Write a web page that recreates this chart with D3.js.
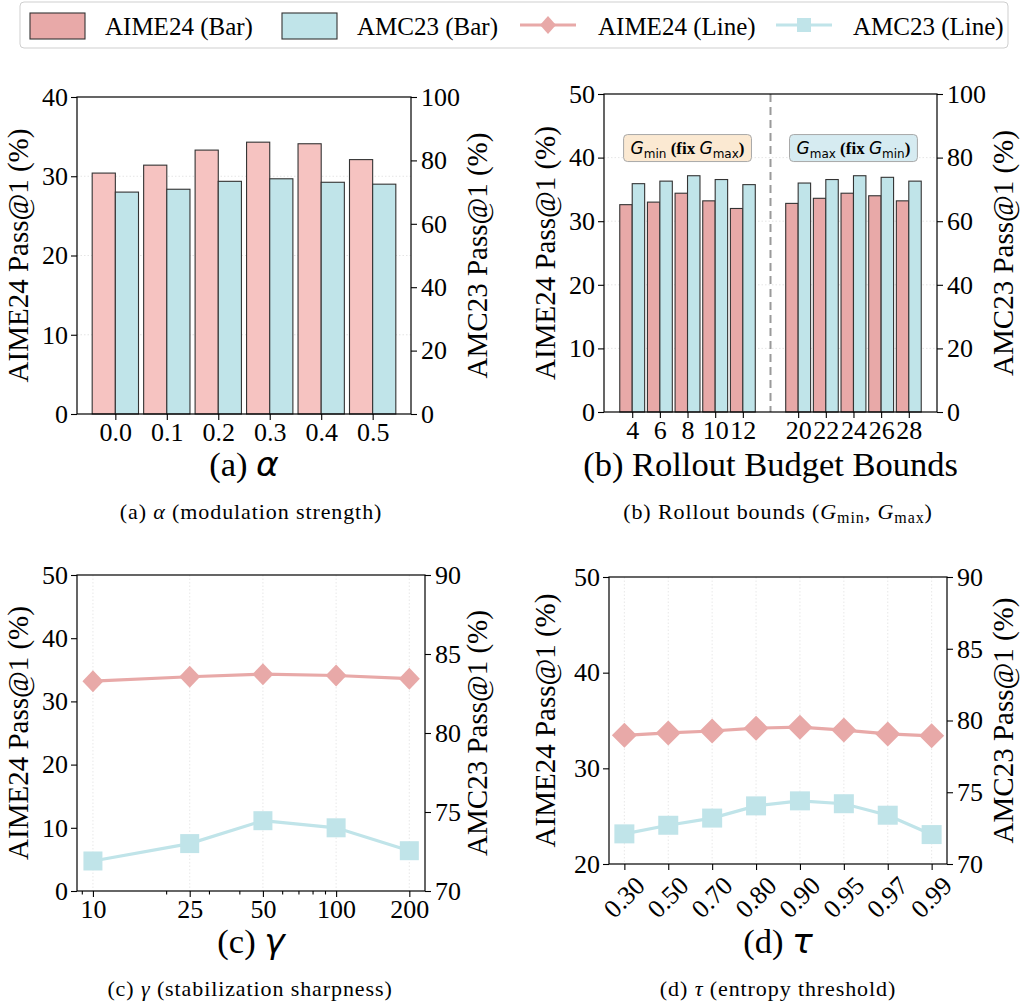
<!DOCTYPE html>
<html>
<head>
<meta charset="utf-8">
<script src="https://cdn.jsdelivr.net/npm/d3@7"></script>
<style>
body { margin: 0; background: #fff; }
text { font-family: 'Liberation Serif', 'Times New Roman', serif; fill: #000; }
</style>
</head>
<body>
<svg id="fig" width="1024" height="1006"></svg>
<script>
// ---- data ----
const alphaLabels = ["0.0", "0.1", "0.2", "0.3", "0.4", "0.5"];
const alphaAime = [30.4, 31.4, 33.3, 34.3, 34.1, 32.1];
const alphaAmc = [70.0, 70.9, 73.4, 74.2, 73.1, 72.5];

const boundLabels = ["4", "6", "8", "10", "12", "20", "22", "24", "26", "28"];
const boundSlots = [0, 1, 2, 3, 4, 6, 7, 8, 9, 10];
const boundAime = [32.6, 33.0, 34.4, 33.2, 32.0, 32.8, 33.6, 34.4, 34.0, 33.2];
const boundAmc = [71.8, 72.6, 74.3, 73.1, 71.5, 72.0, 73.1, 74.3, 73.8, 72.6];

const gammaVals = [10, 25, 50, 100, 200];
const gammaAime = [33.2, 33.9, 34.3, 34.1, 33.6];
const gammaAmc = [71.9, 73.0, 74.45, 74.0, 72.55];

const tauLabels = ["0.30", "0.50", "0.70", "0.80", "0.90", "0.95", "0.97", "0.99"];
const tauAime = [33.45, 33.7, 33.9, 34.2, 34.3, 34.0, 33.6, 33.4];
const tauAmc = [72.1, 72.7, 73.2, 74.05, 74.4, 74.2, 73.4, 72.05];

const legendNames = ["AIME24 (Bar)", "AMC23 (Bar)", "AIME24 (Line)", "AMC23 (Line)"];

// ---- style ----
const PINK_LIGHT = "#f6c3c1", PINK = "#e8a9a8", BLUE = "#c0e4e9";
const EDGE = "#333";
const TICK_FS = 26, YLAB_FS = 29, XLAB_FS = 34.5, CAP_FS = 22;
const MATH = "'DejaVu Sans', sans-serif";

const svg = d3.select("#fig");

function frame(b) {
    svg.append("rect")
        .attr("x", b.l).attr("y", b.t)
        .attr("width", b.r - b.l).attr("height", b.b - b.t)
        .attr("fill", "none").attr("stroke", "#000").attr("stroke-width", 1.2);
}

function fixAxis(g) {
    g.attr("font-size", TICK_FS).attr("font-family", null);
    g.select(".domain").remove();
    g.selectAll(".tick line").attr("stroke", "#000").attr("stroke-width", 1.1);
}

function yAxes(b, yl, yr, ticksL, ticksR) {
    svg.append("g").attr("transform", `translate(${b.l},0)`)
        .call(d3.axisLeft(yl).tickValues(ticksL).tickSize(6).tickPadding(3).tickSizeOuter(0).tickFormat(d3.format("d")))
        .call(fixAxis);
    svg.append("g").attr("transform", `translate(${b.r},0)`)
        .call(d3.axisRight(yr).tickValues(ticksR).tickSize(6).tickPadding(4).tickSizeOuter(0).tickFormat(d3.format("d")))
        .call(fixAxis);
}

function hGrid(b, y, vals) {
    svg.append("g").selectAll("line").data(vals).enter().append("line")
        .attr("x1", b.l).attr("x2", b.r)
        .attr("y1", d => y(d)).attr("y2", d => y(d))
        .attr("stroke", "#dedede").attr("stroke-width", 0.8).attr("stroke-dasharray", "1.5,2");
}

function vGrid(b, xs) {
    svg.append("g").selectAll("line").data(xs).enter().append("line")
        .attr("x1", d => d).attr("x2", d => d)
        .attr("y1", b.t).attr("y2", b.b)
        .attr("stroke", "#e2e2e2").attr("stroke-width", 0.8).attr("stroke-dasharray", "1.5,2");
}

function yLabel(x, yc, str) {
    svg.append("text")
        .attr("transform", `translate(${x},${yc}) rotate(-90)`)
        .attr("text-anchor", "middle")
        .attr("font-size", YLAB_FS)
        .text(str);
}

function xLabel(xc, y, head, greek) {
    const t = svg.append("text").attr("x", xc).attr("y", y)
        .attr("text-anchor", "middle").attr("font-size", XLAB_FS);
    t.append("tspan").text(head);
    if (greek) t.append("tspan").style("font-family", MATH).attr("font-style", "italic").text(greek);
}

function bars(xs, y, vals, off, w, fill) {
    svg.append("g").selectAll("rect").data(vals).enter().append("rect")
        .attr("x", (d, i) => xs(i, off))
        .attr("width", w)
        .attr("y", d => y(d))
        .attr("height", d => y.range()[0] - y(d))
        .attr("fill", fill).attr("stroke", EDGE).attr("stroke-width", 1.1);
}

function lineSeries(xs, y, vals, color, marker, ms) {
    const line = d3.line().x((d, i) => xs[i]).y(d => y(d));
    svg.append("path").datum(vals).attr("d", line)
        .attr("fill", "none").attr("stroke", color).attr("stroke-width", 3.2);
    const g = svg.append("g");
    vals.forEach((v, i) => {
        const cx = xs[i], cy = y(v);
        if (marker === "diamond") {
            g.append("path")
                .attr("d", `M${cx},${cy - ms[1] / 2}L${cx + ms[0] / 2},${cy}L${cx},${cy + ms[1] / 2}L${cx - ms[0] / 2},${cy}Z`)
                .attr("fill", color);
        } else {
            g.append("rect").attr("x", cx - ms[0] / 2).attr("y", cy - ms[1] / 2)
                .attr("width", ms[0]).attr("height", ms[1]).attr("fill", color);
        }
    });
}

// ---------- (a) alpha ----------
const boxA = { l: 77, r: 411, t: 97, b: 414 };
const xA = d3.scaleLinear().domain([-0.745, alphaLabels.length - 1 + 0.745]).range([boxA.l, boxA.r]);
const yAL = d3.scaleLinear().domain([0, 40]).range([boxA.b, boxA.t]);
const yAR = d3.scaleLinear().domain([0, 100]).range([boxA.b, boxA.t]);
hGrid(boxA, yAL, [10, 20, 30]);
const wA = xA(0.45) - xA(0);
bars((i, off) => xA(i + off), yAL, alphaAime, -0.45, wA, PINK_LIGHT);
bars((i, off) => xA(i + off), yAR, alphaAmc, 0, wA, BLUE);
frame(boxA);
yAxes(boxA, yAL, yAR, [0, 10, 20, 30, 40], [0, 20, 40, 60, 80, 100]);
svg.append("g").attr("transform", `translate(0,${boxA.b})`)
    .call(d3.axisBottom(xA).tickValues(d3.range(alphaLabels.length)).tickFormat(i => alphaLabels[i])
        .tickSize(6).tickPadding(3).tickSizeOuter(0))
    .call(fixAxis);
yLabel(28, (boxA.t + boxA.b) / 2, "AIME24 Pass@1 (%)");
yLabel(487, (boxA.t + boxA.b) / 2, "AMC23 Pass@1 (%)");
xLabel((boxA.l + boxA.r) / 2, 476, "(a) ", "α");

// ---------- (b) rollout bounds ----------
const boxB = { l: 604, r: 937, t: 94, b: 412 };
const xB = d3.scaleLinear().domain([-1.02, 11.02]).range([boxB.l, boxB.r]);
const yBL = d3.scaleLinear().domain([0, 50]).range([boxB.b, boxB.t]);
const yBR = d3.scaleLinear().domain([0, 100]).range([boxB.b, boxB.t]);
hGrid(boxB, yBL, [10, 20, 30, 40]);
const wB = xB(0.45) - xB(0);
bars((i, off) => xB(boundSlots[i] + off), yBL, boundAime, -0.45, wB, PINK);
bars((i, off) => xB(boundSlots[i] + off), yBR, boundAmc, 0, wB, BLUE);
svg.append("line").attr("x1", xB(5)).attr("x2", xB(5)).attr("y1", boxB.t).attr("y2", boxB.b)
    .attr("stroke", "#9a9a9a").attr("stroke-width", 2).attr("stroke-dasharray", "8,5");
frame(boxB);
yAxes(boxB, yBL, yBR, [0, 10, 20, 30, 40, 50], [0, 20, 40, 60, 80, 100]);
svg.append("g").attr("transform", `translate(0,${boxB.b})`)
    .call(d3.axisBottom(xB).tickValues(boundSlots).tickFormat(s => boundLabels[boundSlots.indexOf(s)])
        .tickSize(6).tickPadding(3).tickSizeOuter(0))
    .call(fixAxis);
yLabel(555, (boxB.t + boxB.b) / 2, "AIME24 Pass@1 (%)");
yLabel(1013, (boxB.t + boxB.b) / 2, "AMC23 Pass@1 (%)");
xLabel((boxB.l + boxB.r) / 2, 476, "(b) Rollout Budget Bounds", null);

// annotation boxes
const notes = [
    { slot: 2, a: "min", b: "max", fill: "#fbe9d2" },
    { slot: 8, a: "max", b: "min", fill: "#d6ebf1" }
];
notes.forEach(n => {
    const cx = xB(n.slot), cy = yBL(41.5);
    const t = svg.append("text").attr("x", cx).attr("y", cy + 6)
        .attr("text-anchor", "middle").attr("font-size", 17);
    t.append("tspan").style("font-family", MATH).attr("font-style", "italic").text("G");
    t.append("tspan").style("font-family", MATH).attr("font-size", 12).attr("dy", 4).text(n.a);
    t.append("tspan").attr("font-weight", "bold").attr("dy", -4).text(" (fix ");
    t.append("tspan").style("font-family", MATH).attr("font-style", "italic").text("G");
    t.append("tspan").style("font-family", MATH).attr("font-size", 12).attr("dy", 4).text(n.b);
    t.append("tspan").attr("font-weight", "bold").attr("dy", -4).text(")");
    const bb = t.node().getBBox();
    svg.insert("rect", () => t.node())
        .attr("x", bb.x - 7).attr("y", cy - 13.5)
        .attr("width", bb.width + 14).attr("height", 27)
        .attr("rx", 4).attr("fill", n.fill).attr("stroke", "#a8a8a8").attr("stroke-width", 1);
});

// ---------- (c) gamma ----------
const boxC = { l: 77, r: 425, t: 575, b: 891 };
const xC = d3.scaleLog().domain([8.6, 232]).range([boxC.l, boxC.r]);
const yCL = d3.scaleLinear().domain([0, 50]).range([boxC.b, boxC.t]);
const yCR = d3.scaleLinear().domain([70, 90]).range([boxC.b, boxC.t]);
vGrid(boxC, gammaVals.map(xC));
lineSeries(gammaVals.map(xC), yCL, gammaAime, PINK, "diamond", [21, 22]);
lineSeries(gammaVals.map(xC), yCR, gammaAmc, BLUE, "square", [19, 19]);
frame(boxC);
yAxes(boxC, yCL, yCR, [0, 10, 20, 30, 40, 50], [70, 75, 80, 85, 90]);
svg.append("g").attr("transform", `translate(0,${boxC.b})`)
    .call(d3.axisBottom(xC).tickValues(gammaVals).tickFormat(d3.format("d"))
        .tickSize(6).tickPadding(3).tickSizeOuter(0))
    .call(fixAxis);
svg.append("g").attr("transform", `translate(0,${boxC.b})`)
    .call(d3.axisBottom(xC).tickValues([9, 20, 30, 40, 60, 70, 80, 90]).tickFormat("").tickSize(3.5).tickSizeOuter(0))
    .call(fixAxis);
yLabel(28, (boxC.t + boxC.b) / 2, "AIME24 Pass@1 (%)");
yLabel(487, (boxC.t + boxC.b) / 2, "AMC23 Pass@1 (%)");
xLabel((boxC.l + boxC.r) / 2, 953, "(c) ", "γ");

// ---------- (d) tau ----------
const boxD = { l: 609, r: 947, t: 577, b: 864 };
const xD = d3.scaleLinear().domain([-0.35, tauLabels.length - 1 + 0.35]).range([boxD.l, boxD.r]);
const yDL = d3.scaleLinear().domain([20, 50]).range([boxD.b, boxD.t]);
const yDR = d3.scaleLinear().domain([70, 90]).range([boxD.b, boxD.t]);
const tauX = tauLabels.map((d, i) => xD(i));
vGrid(boxD, tauX);
lineSeries(tauX, yDL, tauAime, PINK, "diamond", [25, 25]);
lineSeries(tauX, yDR, tauAmc, BLUE, "square", [20, 19]);
frame(boxD);
yAxes(boxD, yDL, yDR, [20, 30, 40, 50], [70, 75, 80, 85, 90]);
const axD = svg.append("g").attr("transform", `translate(0,${boxD.b})`)
    .call(d3.axisBottom(xD).tickValues(d3.range(tauLabels.length)).tickFormat(i => tauLabels[i])
        .tickSize(6).tickPadding(3).tickSizeOuter(0))
    .call(fixAxis);
axD.selectAll(".tick text")
    .attr("text-anchor", "middle").attr("dy", "0.35em").attr("y", 0)
    .attr("transform", "translate(-1,33) rotate(-45)");
yLabel(555, (boxD.t + boxD.b) / 2, "AIME24 Pass@1 (%)");
yLabel(1013, (boxD.t + boxD.b) / 2, "AMC23 Pass@1 (%)");
xLabel((boxD.l + boxD.r) / 2, 953, "(d) ", "τ");

// ---------- captions ----------
function caption(xc, y, parts) {
    const t = svg.append("text").attr("x", xc).attr("y", y)
        .attr("text-anchor", "middle").attr("font-size", CAP_FS).attr("letter-spacing", 0.9);
    parts.forEach(p => {
        const s = t.append("tspan").text(p.s);
        if (p.it) s.attr("font-style", "italic");
        if (p.sub) s.attr("font-size", 16).attr("dy", 4);
        if (p.up) s.attr("dy", -4);
    });
}
caption(251, 519, [{ s: "(a)  " }, { s: "α", it: 1 }, { s: " (modulation strength)" }]);
caption(778, 519, [{ s: "(b)  Rollout bounds (" }, { s: "G", it: 1 }, { s: "min", sub: 1 }, { s: ", ", up: 1 },
    { s: "G", it: 1 }, { s: "max", sub: 1 }, { s: ")", up: 1 }]);
caption(250, 996, [{ s: "(c)  " }, { s: "γ", it: 1 }, { s: " (stabilization sharpness)" }]);
caption(778, 996, [{ s: "(d)  " }, { s: "τ", it: 1 }, { s: " (entropy threshold)" }]);

// ---------- legend ----------
const lg = svg.append("g");
lg.append("rect").attr("x", 20).attr("y", 2).attr("width", 988).attr("height", 46)
    .attr("rx", 4).attr("fill", "#fff").attr("stroke", "#cfcfcf").attr("stroke-width", 1);
const legX = [30, 282, 520, 776];
const legTextX = [105, 357, 598, 853];
[PINK, BLUE].forEach((c, i) => {
    lg.append("rect").attr("x", legX[i]).attr("y", 13).attr("width", 55).attr("height", 26)
        .attr("fill", c).attr("stroke", EDGE).attr("stroke-width", 1.1);
});
[PINK, BLUE].forEach((c, i) => {
    const x0 = legX[i + 2];
    lg.append("line").attr("x1", x0).attr("x2", x0 + 56).attr("y1", 25).attr("y2", 25)
        .attr("stroke", c).attr("stroke-width", 3.2);
    const cx = x0 + 28;
    if (i === 0) {
        lg.append("path").attr("d", `M${cx},16L${cx + 8},25L${cx},34L${cx - 8},25Z`).attr("fill", c);
    } else {
        lg.append("rect").attr("x", cx - 7).attr("y", 18).attr("width", 14).attr("height", 14).attr("fill", c);
    }
});
legendNames.forEach((n, i) => {
    lg.append("text").attr("x", legTextX[i]).attr("y", 35).attr("font-size", 25).text(n);
});
</script>
</body>
</html>
